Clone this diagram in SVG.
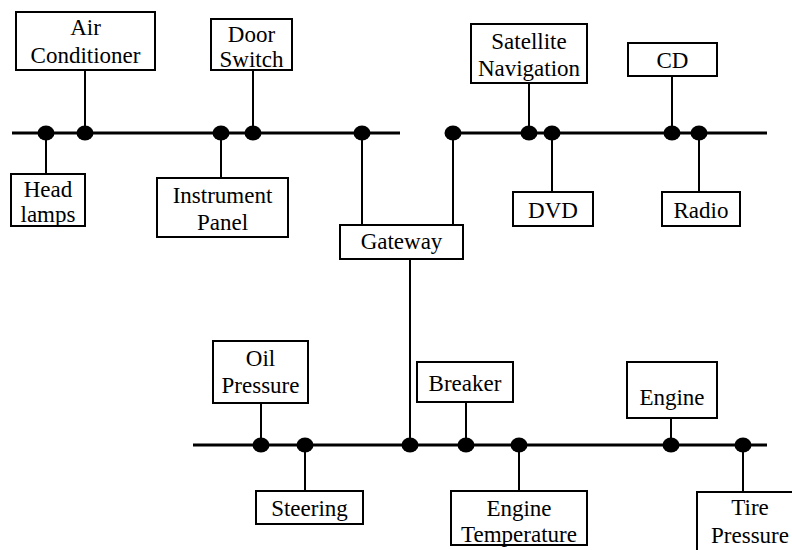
<svg xmlns="http://www.w3.org/2000/svg" width="792" height="550" viewBox="0 0 792 550">
<style>
.bus{stroke:#000;stroke-width:3;fill:none}
.ln{stroke:#000;stroke-width:2;fill:none}
.box{fill:#fff;stroke:#000;stroke-width:2}
.dot{fill:#000}
.t{font-family:'Liberation Serif','Tinos','Times New Roman','DejaVu Serif',serif;font-size:23px;fill:#000;text-anchor:middle}
</style>
<rect width="792" height="550" fill="#fff"/>
<g id="connectors">
<line class="bus" x1="12" y1="133" x2="400" y2="133"/>
<line class="bus" x1="445" y1="133" x2="767" y2="133"/>
<line class="bus" x1="193" y1="445" x2="767" y2="445"/>
<line class="ln" x1="85" y1="70" x2="85" y2="133"/>
<line class="ln" x1="253" y1="70" x2="253" y2="133"/>
<line class="ln" x1="46" y1="133" x2="46" y2="174"/>
<line class="ln" x1="221" y1="133" x2="221" y2="178"/>
<line class="ln" x1="362" y1="133" x2="362" y2="225"/>
<line class="ln" x1="453" y1="133" x2="453" y2="225"/>
<line class="ln" x1="529" y1="83" x2="529" y2="133"/>
<line class="ln" x1="672" y1="76" x2="672" y2="133"/>
<line class="ln" x1="552" y1="133" x2="552" y2="192"/>
<line class="ln" x1="699" y1="133" x2="699" y2="192"/>
<line class="ln" x1="410" y1="259" x2="410" y2="445"/>
<line class="ln" x1="261" y1="403" x2="261" y2="445"/>
<line class="ln" x1="305" y1="445" x2="305" y2="491"/>
<line class="ln" x1="466" y1="402" x2="466" y2="445"/>
<line class="ln" x1="519" y1="445" x2="519" y2="491"/>
<line class="ln" x1="671" y1="418" x2="671" y2="445"/>
<line class="ln" x1="743" y1="445" x2="743" y2="492"/>
<ellipse class="dot" cx="46" cy="133" rx="8.5" ry="7.5"/>
<ellipse class="dot" cx="85" cy="133" rx="8.5" ry="7.5"/>
<ellipse class="dot" cx="221" cy="133" rx="8.5" ry="7.5"/>
<ellipse class="dot" cx="253" cy="133" rx="8.5" ry="7.5"/>
<ellipse class="dot" cx="362" cy="133" rx="8.5" ry="7.5"/>
<ellipse class="dot" cx="453" cy="133" rx="8.5" ry="7.5"/>
<ellipse class="dot" cx="529" cy="133" rx="8.5" ry="7.5"/>
<ellipse class="dot" cx="552" cy="133" rx="8.5" ry="7.5"/>
<ellipse class="dot" cx="672" cy="133" rx="8.5" ry="7.5"/>
<ellipse class="dot" cx="699" cy="133" rx="8.5" ry="7.5"/>
<ellipse class="dot" cx="261" cy="445" rx="8.5" ry="7.5"/>
<ellipse class="dot" cx="305" cy="445" rx="8.5" ry="7.5"/>
<ellipse class="dot" cx="410" cy="445" rx="8.5" ry="7.5"/>
<ellipse class="dot" cx="466" cy="445" rx="8.5" ry="7.5"/>
<ellipse class="dot" cx="519" cy="445" rx="8.5" ry="7.5"/>
<ellipse class="dot" cx="671" cy="445" rx="8.5" ry="7.5"/>
<ellipse class="dot" cx="743" cy="445" rx="8.5" ry="7.5"/>
</g>
<g id="air-conditioner"><rect class="box" x="16" y="12" width="139" height="58"/><text class="t" x="85.5" y="35">Air</text><text class="t" x="85.5" y="63">Conditioner</text></g>
<g id="door-switch"><rect class="box" x="211" y="19" width="81" height="51"/><text class="t" x="251.5" y="42">Door</text><text class="t" x="251.5" y="67">Switch</text></g>
<g id="head-lamps"><rect class="box" x="11" y="174" width="74" height="52"/><text class="t" x="48" y="197">Head</text><text class="t" x="48" y="222">lamps</text></g>
<g id="instrument-panel"><rect class="box" x="157" y="178" width="131" height="59"/><text class="t" x="222.5" y="203">Instrument</text><text class="t" x="222.5" y="230">Panel</text></g>
<g id="satellite-navigation"><rect class="box" x="471" y="24" width="116" height="59"/><text class="t" x="529" y="49">Satellite</text><text class="t" x="529" y="76">Navigation</text></g>
<g id="cd"><rect class="box" x="628" y="43" width="89" height="33"/><text class="t" x="672.5" y="68">CD</text></g>
<g id="dvd"><rect class="box" x="513" y="192" width="80" height="34"/><text class="t" x="553" y="218">DVD</text></g>
<g id="radio"><rect class="box" x="662" y="192" width="78" height="34"/><text class="t" x="701" y="218">Radio</text></g>
<g id="gateway"><rect class="box" x="340" y="225" width="123" height="34"/><text class="t" x="401.5" y="249">Gateway</text></g>
<g id="oil-pressure"><rect class="box" x="213" y="341" width="95" height="62"/><text class="t" x="260.5" y="366">Oil</text><text class="t" x="260.5" y="393">Pressure</text></g>
<g id="breaker"><rect class="box" x="417" y="362" width="96" height="40"/><text class="t" x="465" y="391">Breaker</text></g>
<g id="steering"><rect class="box" x="256" y="491" width="107" height="33"/><text class="t" x="309.5" y="516">Steering</text></g>
<g id="engine"><rect class="box" x="627" y="362" width="90" height="56"/><text class="t" x="672" y="405">Engine</text></g>
<g id="engine-temperature"><rect class="box" x="451" y="491" width="136" height="54"/><text class="t" x="519" y="516">Engine</text><text class="t" x="519" y="542">Temperature</text></g>
<g id="tire-pressure"><rect class="box" x="697" y="492" width="110" height="70"/><text class="t" x="750" y="515">Tire</text><text class="t" x="750" y="543">Pressure</text></g>
</svg>
